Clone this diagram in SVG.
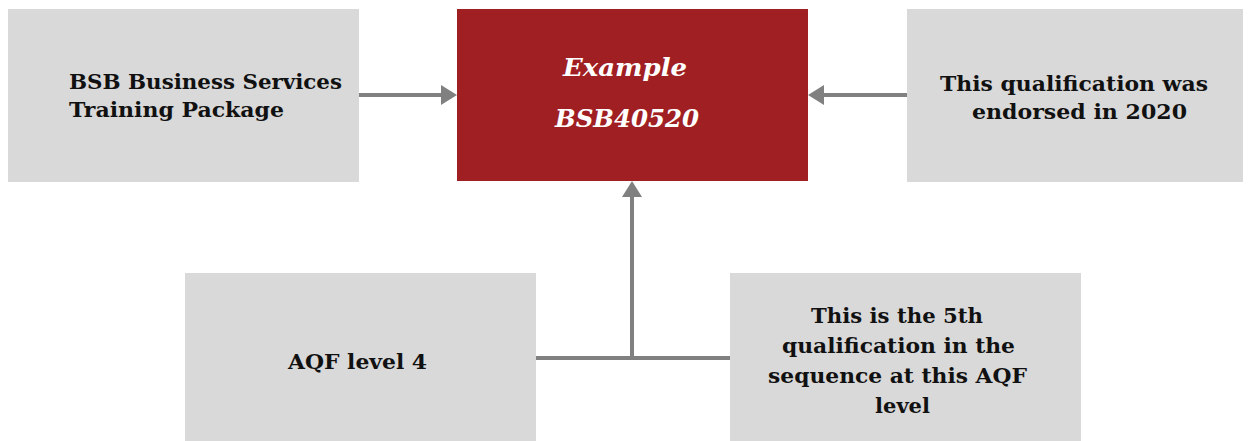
<svg xmlns="http://www.w3.org/2000/svg" width="1251" height="441" viewBox="0 0 1251 441">
  <style>
    .box { fill: #D9D9D9; }
    .key { fill: #A01F22; }
    .lbl { font-family: "DejaVu Serif", "Liberation Serif", serif; font-weight: bold; font-size: 20px; fill: #111111; }
    .hdr { font-family: "DejaVu Serif", "Liberation Serif", serif; font-weight: bold; font-style: italic; font-size: 24px; fill: #FFFFFF; }
    .wire { fill: none; stroke: #808080; stroke-width: 4; }
  </style>
  <defs>
    <marker id="head" viewBox="0 0 16 20" refX="0" refY="10" markerWidth="16" markerHeight="20" markerUnits="userSpaceOnUse" orient="auto">
      <path d="M0,0 L16,10 L0,20 z" fill="#808080"/>
    </marker>
  </defs>

  <g id="connectors">
    <path class="wire" d="M359,95 H441" marker-end="url(#head)"/>
    <path class="wire" d="M907,95 H824" marker-end="url(#head)"/>
    <path class="wire" d="M536,358 H730"/>
    <path class="wire" d="M632,360 V197" marker-end="url(#head)"/>
  </g>

  <g id="training-package">
    <rect class="box" x="8" y="9" width="351" height="173"/>
    <text class="lbl" x="69" y="89" textLength="273" lengthAdjust="spacingAndGlyphs">BSB Business Services</text>
    <text class="lbl" x="69" y="117" textLength="215" lengthAdjust="spacingAndGlyphs">Training Package</text>
  </g>

  <g id="qualification-code">
    <rect class="key" x="457" y="9" width="351" height="172"/>
    <text class="hdr" x="563" y="76" textLength="124" lengthAdjust="spacingAndGlyphs">Example</text>
    <text class="hdr" x="555" y="127" textLength="144" lengthAdjust="spacingAndGlyphs">BSB40520</text>
  </g>

  <g id="endorsed">
    <rect class="box" x="907" y="9" width="336" height="173"/>
    <text class="lbl" x="940" y="91" textLength="268" lengthAdjust="spacingAndGlyphs">This qualification was</text>
    <text class="lbl" x="972" y="119" textLength="215" lengthAdjust="spacingAndGlyphs">endorsed in 2020</text>
  </g>

  <g id="aqf-level">
    <rect class="box" x="185" y="273" width="351" height="168"/>
    <text class="lbl" x="288" y="369" textLength="139" lengthAdjust="spacingAndGlyphs">AQF level 4</text>
  </g>

  <g id="sequence">
    <rect class="box" x="730" y="273" width="351" height="168"/>
    <text class="lbl" x="811" y="323" textLength="172" lengthAdjust="spacingAndGlyphs">This is the 5th</text>
    <text class="lbl" x="782" y="353" textLength="233" lengthAdjust="spacingAndGlyphs">qualification in the</text>
    <text class="lbl" x="768" y="383" textLength="259" lengthAdjust="spacingAndGlyphs">sequence at this AQF</text>
    <text class="lbl" x="875" y="413" textLength="55" lengthAdjust="spacingAndGlyphs">level</text>
  </g>
</svg>
